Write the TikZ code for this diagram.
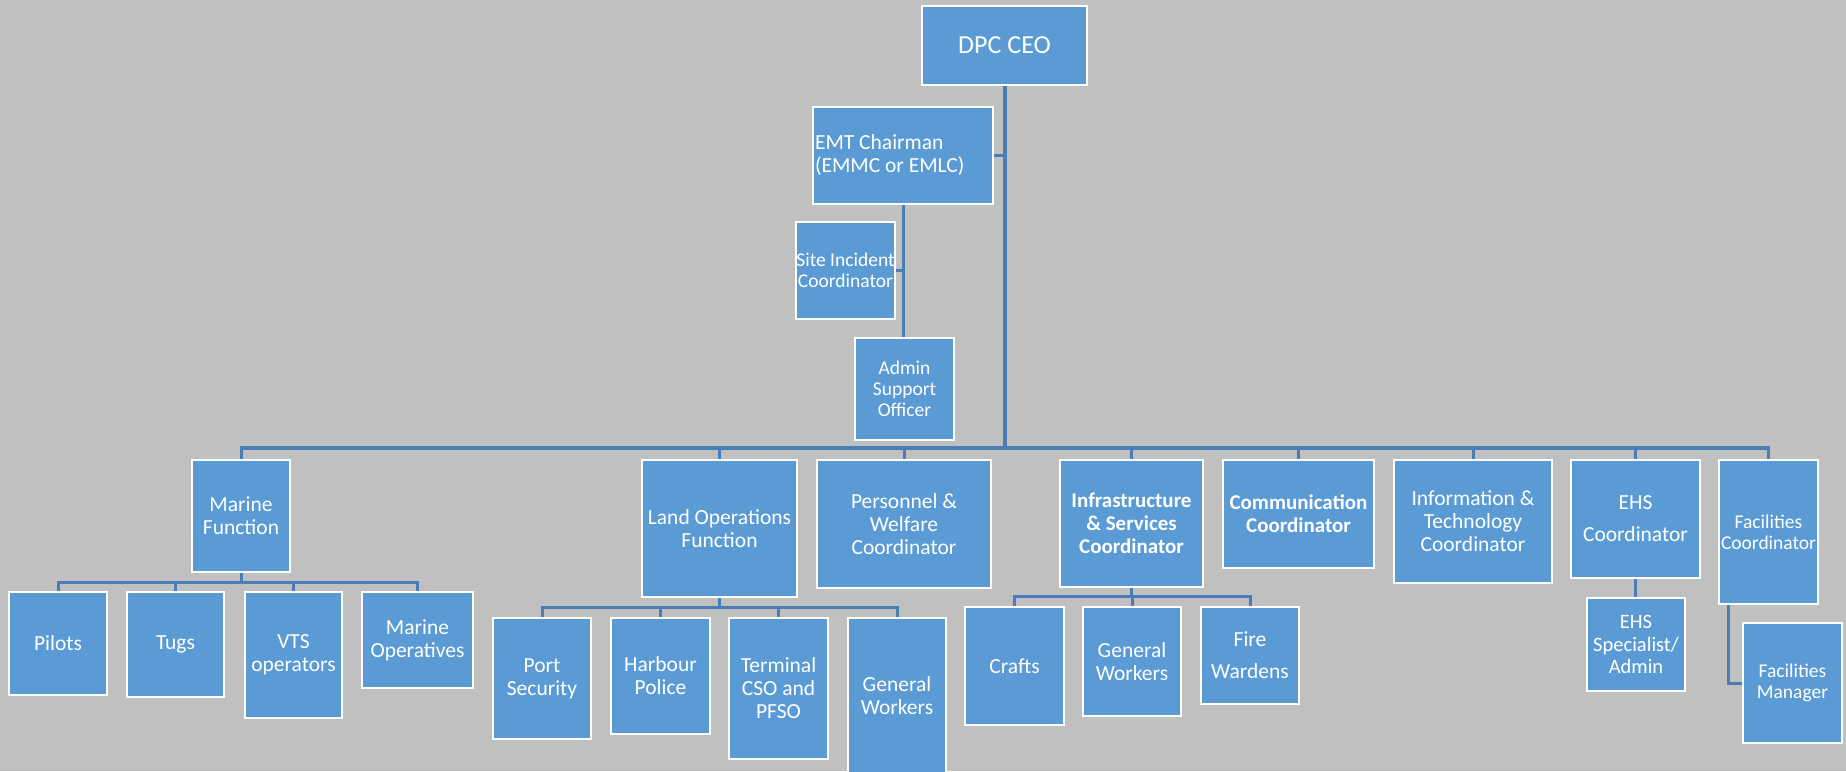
\documentclass[tikz,border=0pt]{standalone}
\usepackage{fontspec}
\setmainfont{Carlito}
\definecolor{bg}{HTML}{C0C0C0}
\definecolor{boxblue}{HTML}{5B9BD5}
\definecolor{linecol}{HTML}{4A7DB8}
\begin{document}
\begin{tikzpicture}[x=1pt,y=-1pt,
  box/.style={draw=white, line width=2pt, fill=boxblue, text=white, align=center, inner sep=0pt,
    font=\fontsize{21.5}{23}\selectfont},
  smallbox/.style={box, font=\fontsize{19.5}{21}\selectfont},
  boldbox/.style={box, font=\fontsize{21}{23}\selectfont\bfseries},
  conn/.style={draw=linecol, line width=3pt},
  mainconn/.style={draw=linecol, line width=4pt}]
\fill[bg] (0,0) rectangle (1846,771);
\useasboundingbox (0,0) rectangle (1846,771);

% top
\node[box, font=\fontsize{26}{28}\selectfont, minimum width=165pt, minimum height=79pt] (ceo) at (1004.5,45.5) {DPC CEO};
\node[box, minimum width=180pt, minimum height=97pt, text width=176pt, align=flush left] (emt) at (903,155) {EMT Chairman\\(EMMC or EMLC)};
\node[smallbox, minimum width=99pt, minimum height=97pt] (site) at (845.5,270.5) {Site Incident\\Coordinator};
\node[smallbox, minimum width=99pt, minimum height=102pt] (admin) at (904.5,389) {Admin\\Support\\Officer};

% second level
\node[box, minimum width=98pt, minimum height=112pt] (marine) at (241,516) {Marine\\Function};
\node[box, minimum width=155pt, minimum height=137pt] (land) at (719.5,528.5) {Land Operations\\Function};
\node[box, minimum width=174pt, minimum height=128pt] (pers) at (904,524) {Personnel \&\\Welfare\\Coordinator};
\node[boldbox, minimum width=143pt, minimum height=127pt] (infra) at (1131.5,523.5) {Infrastructure\\\& Services\\Coordinator};
\node[boldbox, minimum width=151pt, minimum height=108pt] (comm) at (1298.5,514) {Communication\\Coordinator};
\node[box, minimum width=158pt, minimum height=123pt] (info) at (1473,521.5) {Information \&\\Technology\\Coordinator};
\node[box, minimum width=129pt, minimum height=118pt] (ehs) at (1635.5,519) {EHS\\[9pt]Coordinator};
\node[smallbox, minimum width=99pt, minimum height=144pt] (facc) at (1768.5,532) {Facilities\\Coordinator};

% marine children
\node[box, minimum width=98pt, minimum height=103pt] (pilots) at (58,643.5) {Pilots};
\node[box, minimum width=97pt, minimum height=105pt] (tugs) at (175.5,644.5) {Tugs};
\node[box, minimum width=97pt, minimum height=126pt] (vts) at (293.5,655) {VTS\\operators};
\node[box, minimum width=111pt, minimum height=96pt] (mops) at (417.5,640) {Marine\\Operatives};

% land children
\node[box, minimum width=98pt, minimum height=121pt] (port) at (542,678.5) {Port\\Security};
\node[box, minimum width=99pt, minimum height=116pt] (harb) at (660.5,676) {Harbour\\Police};
\node[box, minimum width=99pt, minimum height=141pt] (term) at (778.5,688.5) {Terminal\\CSO and\\PFSO};
\node[box, minimum width=98pt, minimum height=156pt] (gwland) at (897,696) {General\\Workers};

% infra children
\node[box, minimum width=99pt, minimum height=118pt] (crafts) at (1014.5,666) {Crafts};
\node[box, minimum width=98pt, minimum height=109pt] (gwinfra) at (1132,661.5) {General\\Workers};
\node[box, minimum width=98pt, minimum height=97pt] (fire) at (1250,655.5) {Fire\\[9pt]Wardens};

% ehs / facilities children
\node[box, font=\fontsize{20.5}{22.5}\selectfont, minimum width=98pt, minimum height=93pt] (ehss) at (1636,644.5) {EHS\\Specialist/\\Admin};
\node[smallbox, minimum width=99pt, minimum height=120pt] (facm) at (1792.5,683) {Facilities\\Manager};

% bus coordinates
\coordinate (busL) at (241,448);
\coordinate (busR) at (1768.5,448);
\coordinate (mbus) at (0,582);
\coordinate (lbus) at (0,607);
\coordinate (ibus) at (0,596);

% connectors: top
\draw[mainconn] (ceo.south) -- (ceo.south |- busL);
\draw[conn] (emt.east) -- (emt.east -| ceo.south);
\draw[conn] (emt.south) -- (emt.south |- admin.north);
\draw[conn] (site.east) -- (site.east -| emt.south);
\draw[mainconn] ([xshift=-1.5pt]busL) -- ([xshift=1.5pt]busR);
\foreach \c in {marine,land,pers,infra,comm,info,ehs,facc}
  \draw[conn] (\c.north |- busL) -- (\c.north);

% marine
\draw[conn] (marine.south) -- (marine.south |- mbus);
\draw[conn] ([xshift=-1.5pt]pilots.north |- mbus) -- ([xshift=1.5pt]mops.north |- mbus);
\foreach \c in {pilots,tugs,vts,mops}
  \draw[conn] (\c.north |- mbus) -- (\c.north);

% land
\draw[conn] (land.south) -- (land.south |- lbus);
\draw[conn] ([xshift=-1.5pt]port.north |- lbus) -- ([xshift=1.5pt]gwland.north |- lbus);
\foreach \c in {port,harb,term,gwland}
  \draw[conn] (\c.north |- lbus) -- (\c.north);

% infra
\draw[conn] (infra.south) -- (infra.south |- ibus);
\draw[conn] ([xshift=-1.5pt]crafts.north |- ibus) -- ([xshift=1.5pt]fire.north |- ibus);
\foreach \c in {crafts,gwinfra,fire}
  \draw[conn] (\c.north |- ibus) -- (\c.north);

% ehs and facilities
\draw[conn] (ehs.south) -- (ehs.south |- ehss.north);
\draw[conn] ([xshift=10pt]facc.south west) |- (facm.west);
\end{tikzpicture}
\end{document}
